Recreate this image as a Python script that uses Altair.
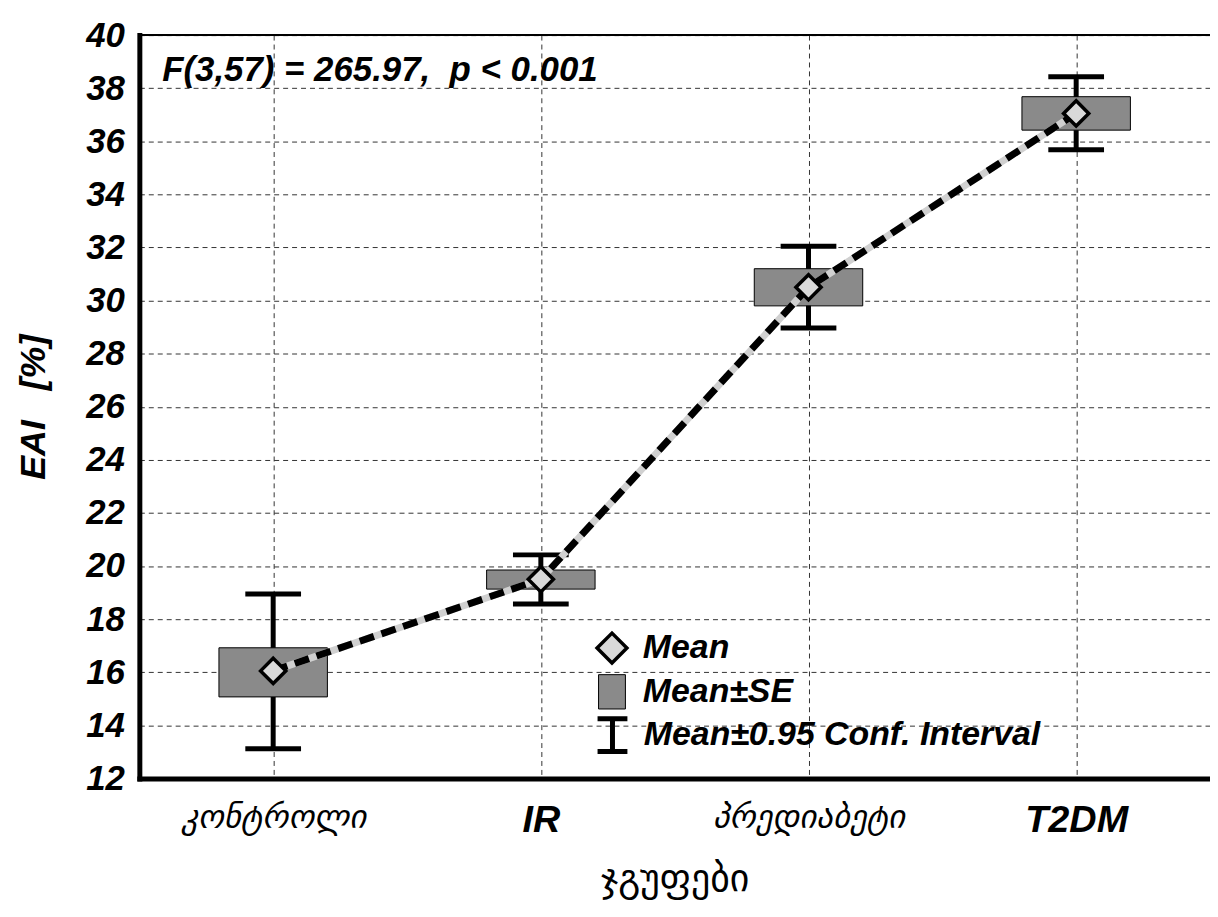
import altair as alt
import pandas as pd

groups = ["კონტროლი", "IR", "პრედიაბეტი", "T2DM"]
means = [16.05, 19.5, 30.5, 37.05]
se_low = [15.07, 19.13, 29.8, 36.42]
se_high = [16.92, 19.85, 31.2, 37.68]
ci_low = [13.12, 18.57, 28.97, 35.68]
ci_high = [18.95, 20.42, 32.05, 38.43]
y_ticks = list(range(12, 41, 2))
legend_labels = ["Mean", "Mean±SE", "Mean±0.95 Conf. Interval"]
annotation = "F(3,57) = 265.97,\u00a0 p < 0.001"

df = pd.DataFrame({
    "group": groups, "mean": means, "se_lo": se_low, "se_hi": se_high,
    "ci_lo": ci_low, "ci_hi": ci_high,
})

LAT = "Liberation Sans, Arial, DejaVu Sans"
latin_test = "datum.value == 'IR' || datum.value == 'T2DM'"

xaxis = alt.Axis(
    labelAngle=0, labelFont=LAT, labelLimit=500,
    labelFontSize={"condition": {"test": latin_test, "value": 38}, "value": 33},
    labelFontWeight={"condition": {"test": latin_test, "value": "bold"}, "value": "normal"},
    labelFontStyle="italic",
    labelColor="black", labelPadding=23, ticks=False,
    domainColor="black", domainWidth=5, domainCap="square",
    grid=True, gridColor="#333333", gridDash=[5, 4], gridWidth=1,
    titleFont="DejaVu Sans", titleFontSize=38, titleFontWeight="normal",
    titleColor="black", titlePadding=22,
)
yaxis = alt.Axis(
    values=y_ticks, labelFont=LAT, labelFontSize=35, labelFontWeight="bold",
    labelFontStyle="italic", labelColor="black", labelPadding=15, ticks=False,
    tickSize=0, domainColor="black", domainWidth=5, domainCap="square",
    grid=True, gridColor="#333333", gridDash=[5, 4], gridWidth=1,
    titleFont=LAT, titleFontSize=36, titleFontWeight="bold", titleFontStyle="italic",
    titleColor="black", titlePadding=33,
)
xscale = alt.Scale(type="point", domain=groups, padding=0.5)
yscale = alt.Scale(domain=[12, 40], nice=False, zero=False)
YT = "EAI \u00a0\u00a0[%]"


def X():
    return alt.X("group:N", scale=xscale, axis=xaxis, title="ჯგუფები", sort=groups)


def Y(f):
    return alt.Y(f, scale=yscale, axis=yaxis, title=YT)


base = alt.Chart(df)

whisk = base.mark_rule(color="black", strokeWidth=5).encode(x=X(), y=Y("ci_lo:Q"), y2="ci_hi:Q")
cap_lo = base.mark_tick(color="black", thickness=5, size=56, opacity=1).encode(x=X(), y=Y("ci_lo:Q"))
cap_hi = base.mark_tick(color="black", thickness=5, size=56, opacity=1).encode(x=X(), y=Y("ci_hi:Q"))
box = base.mark_bar(size=109, fill="#8a8a8a", stroke="black", strokeWidth=1).encode(
    x=X(), y=Y("se_lo:Q"), y2="se_hi:Q")
line_bg = base.mark_line(color="#d0d0d0", strokeWidth=7).encode(x=X(), y=Y("mean:Q"))
line_fg = base.mark_line(color="black", strokeWidth=7, strokeDash=[15, 8]).encode(x=X(), y=Y("mean:Q"))
pts = base.mark_point(shape="diamond", filled=True, fill="#d9d9d9", stroke="black",
                      strokeWidth=3.5, size=640, opacity=1).encode(x=X(), y=Y("mean:Q"))
top_rule = base.mark_rule(color="black", strokeWidth=2).encode(y=alt.datum(40))

ann = alt.Chart(pd.DataFrame({"t": [annotation]})).mark_text(
    align="left", baseline="alphabetic", font=LAT, fontSize=35, fontStyle="italic",
    fontWeight="bold", color="black",
).encode(text="t:N", x=alt.value(23), y=alt.value(46))

box_path = "M-0.9,-1.15H0.9V1.15H-0.9Z"
ibeam_path = "M-1,-1.1H1M0,-1.1V1.1M-1,1.1H1"
leg_specs = [
    ("l1", legend_labels[0], "diamond", "#d9d9d9", 3.5, 900, 458, 599),
    ("l2", legend_labels[1], box_path, "#8a8a8a", 1, 900, 458, 643),
    ("l3", legend_labels[2], ibeam_path, "#000000", 5, 900, 458, 686),
]
legend_layers = []
for fld, lab, shp, fillc, sw, ssz, lx, ly in leg_specs:
    ldf = pd.DataFrame({"group": [groups[0]], "v": [0.0], fld: [lab]})
    leg = alt.Legend(orient="none", legendX=lx, legendY=ly, title=None,
                     labelFont=LAT, labelFontSize=34, labelFontStyle="italic",
                     labelFontWeight="bold", labelColor="black",
                     symbolSize=ssz, symbolStrokeWidth=sw,
                     labelOffset=14, padding=0, symbolOpacity=1, labelLimit=700)
    legend_layers.append(
        alt.Chart(ldf).mark_point(filled=True, strokeWidth=sw, opacity=1, clip=True)
        .encode(
            x=X(), y=Y("v:Q"),
            shape=alt.Shape(f"{fld}:N", scale=alt.Scale(domain=[lab], range=[shp]), legend=leg),
            fill=alt.Fill(f"{fld}:N", scale=alt.Scale(domain=[lab], range=[fillc]), legend=leg),
            stroke=alt.Stroke(f"{fld}:N", scale=alt.Scale(domain=[lab], range=["#000000"]), legend=leg),
        )
    )

chart = alt.layer(
    whisk, cap_lo, cap_hi, box, line_bg, line_fg, pts, top_rule, ann, *legend_layers
).resolve_scale(shape="independent", fill="independent", stroke="independent").resolve_legend(
    shape="independent", fill="independent", stroke="independent"
).properties(
    width=1076, height=747,
    autosize=alt.AutoSizeParams(type="none"),
    padding={"left": 132, "top": 25, "right": 0, "bottom": 124},
).configure_view(stroke=None).configure(background="white")

chart.save("out.html", embed_options={"renderer": "svg", "actions": False})
